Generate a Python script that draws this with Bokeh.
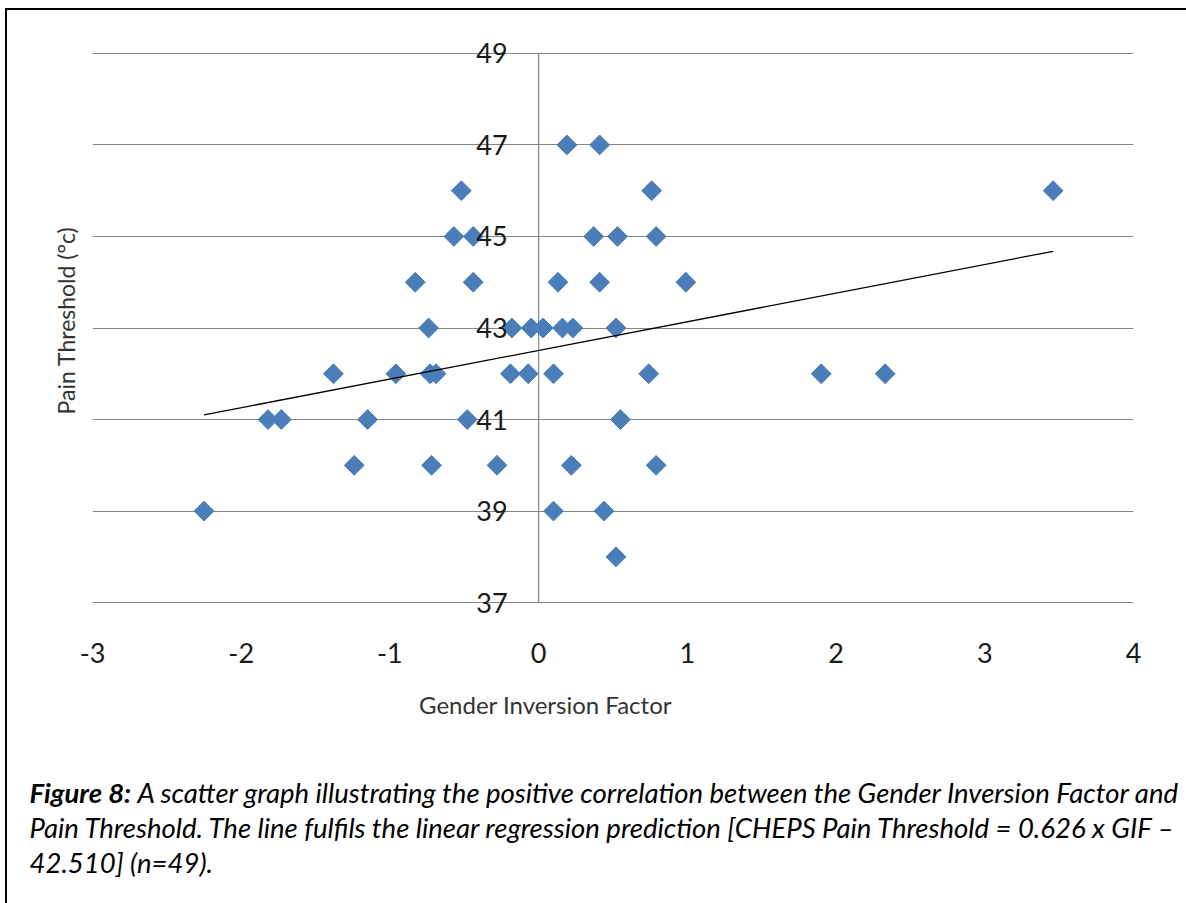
import numpy as np
from bokeh.plotting import figure
from bokeh.models import Range1d, FixedTicker, Label, CustomJSTickFormatter
from bokeh.embed import file_html
from bokeh.resources import INLINE

# ---- data ----
gif = [
    0.19, 0.41,                                   # 47
    -0.52, 0.76, 3.46,                            # 46
    -0.57, -0.44, 0.37, 0.53, 0.79,               # 45
    -0.83, -0.44, 0.13, 0.41, 0.99,               # 44
    -0.74, -0.18, -0.05, 0.03, 0.16, 0.23, 0.52,  # 43
    -1.38, -0.96, -0.73, -0.69, -0.19, -0.07, 0.10, 0.74, 1.90, 2.33,  # 42
    -1.82, -1.73, -1.15, -0.48, 0.55,             # 41
    -1.24, -0.72, -0.28, 0.22, 0.79,              # 40
    -2.25, 0.10, 0.44,                            # 39
    0.52,                                         # 38
]
pain = (
    [47] * 2 + [46] * 3 + [45] * 5 + [44] * 5 + [43] * 7 +
    [42] * 10 + [41] * 5 + [40] * 5 + [39] * 3 + [38] * 1
)
slope = 0.626
intercept = 42.510
x_ticks = [-3, -2, -1, 0, 1, 2, 3, 4]
y_ticks = [37, 39, 41, 43, 45, 47, 49]

x_title = "Gender Inversion Factor"
y_title = "Pain Threshold (°c)"
cap_bold = "Figure 8:"
cap_line1 = "A scatter graph illustrating the positive correlation between the Gender Inversion Factor and"
cap_line2 = "Pain Threshold. The line fulfils the linear regression prediction [CHEPS Pain Threshold = 0.626 x GIF –"
cap_line3 = "42.510] (n=49)."

FONT = "Lato"
GRID = "#868686"
BLUE = "#4A7EBB"

p = figure(
    frame_width=1041, frame_height=595,
    min_border_left=85, min_border_right=53,
    min_border_top=20, min_border_bottom=278,
    x_range=Range1d(x_ticks[0], x_ticks[-1]),
    y_range=Range1d(y_ticks[0] - 0.5, y_ticks[-1] + 0.5),
    output_backend="svg", toolbar_location=None,
    background_fill_color="white", border_fill_color="white",
)
p.outline_line_color = None
# outer page border (left and top edges of the framed figure)
p.styles = {"border-left": "2px solid black", "border-top": "2px solid black",
            "margin-left": "5px", "margin-top": "8px"}

fmt = CustomJSTickFormatter(code="return tick.toString();")

# grid
p.xgrid.visible = False
p.ygrid.ticker = FixedTicker(ticks=y_ticks)
p.ygrid.grid_line_color = GRID
p.ygrid.grid_line_width = 1.2

# y axis crossing at x = 0
ya = p.yaxis[0]
ya.fixed_location = 0
ya.ticker = FixedTicker(ticks=y_ticks)
ya.formatter = fmt
ya.axis_line_color = None
ya.major_tick_line_color = None
ya.minor_tick_line_color = None
ya.major_label_standoff = 25
ya.major_label_text_font = FONT
ya.major_label_text_font_size = "27px"
ya.major_label_text_color = "#1a1a1a"

# vertical axis line at x = 0 spanning the tick range
p.segment(x0=[0], y0=[y_ticks[0]], x1=[0], y1=[y_ticks[-1]],
          line_color=GRID, line_width=1.2)

# x axis
xa = p.xaxis[0]
xa.ticker = FixedTicker(ticks=x_ticks)
xa.formatter = fmt
xa.axis_line_color = None
xa.major_tick_line_color = None
xa.minor_tick_line_color = None
xa.major_label_standoff = 11
xa.major_label_text_font = FONT
xa.major_label_text_font_size = "27px"
xa.major_label_text_color = "#1a1a1a"

# points
p.scatter(gif, pain, marker="square", angle=np.pi / 4, size=14,
          fill_color=BLUE, line_color=BLUE)

# regression line
xmin, xmax = min(gif), max(gif)
p.line([xmin, xmax], [slope * xmin + intercept, slope * xmax + intercept],
       line_color="black", line_width=1.3)

# axis titles (canvas pixel units, placed in the side panels so they are not clipped)
p.add_layout(Label(x=56, y=308, x_units="canvas", y_units="canvas", text=y_title,
                   angle=np.pi / 2, text_align="center", text_baseline="middle",
                   text_font=FONT, text_font_size="23px", text_color="#333333"), "left")
p.add_layout(Label(x=536, y=692, x_units="canvas", y_units="canvas", text=x_title,
                   text_align="center", text_baseline="middle",
                   text_font=FONT, text_font_size="24px", text_color="#333333"), "below")

# caption
cap_kw = dict(x_units="canvas", y_units="canvas", text_baseline="alphabetic",
              text_font=FONT, text_font_size="27.5px", text_color="black",
              text_font_style="italic")
p.add_layout(Label(x=20, y=780, text=cap_bold, **{**cap_kw, "text_font_style": "bold italic"}), "below")
p.add_layout(Label(x=128, y=780, text=cap_line1, **cap_kw), "below")
p.add_layout(Label(x=20, y=815, text=cap_line2, **cap_kw), "below")
p.add_layout(Label(x=20, y=850, text=cap_line3, **cap_kw), "below")

open("out.html", "w").write(file_html(p, INLINE))
